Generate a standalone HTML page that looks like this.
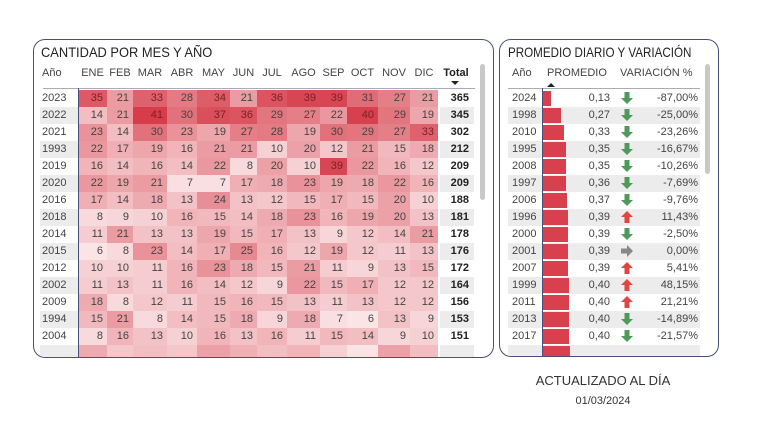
<!DOCTYPE html>
<html><head><meta charset="utf-8">
<style>
body{margin:0;width:768px;height:432px;background:#fff;font-family:"Liberation Sans",sans-serif;color:#333;position:relative;overflow:hidden}
.panel{position:absolute;border:1.5px solid #4a4f7a;border-radius:12px;background:#fff;overflow:hidden}
.title{position:absolute;font-size:14px;color:#222;white-space:nowrap;transform:scaleX(0.92);transform-origin:left top}
.t{position:absolute;font-size:11px;white-space:nowrap}
.c{position:absolute;height:17px}
.sb{position:absolute;width:5px;background:#c8c8c8;border-radius:3px}
</style></head><body>
<div class="panel" style="left:33px;top:39px;width:459px;height:317px" id="L">
<div class="title" style="left:7px;top:4px">CANTIDAD POR MES Y AÑO</div>
</div>
<div class="panel" style="left:499px;top:39px;width:218px;height:316px" id="R">
<div class="title" style="left:8px;top:4px;transform:scaleX(0.83)">PROMEDIO DIARIO Y VARIACIÓN</div>
</div>
<div class="t" style="left:0;width:1206px;text-align:center;top:373px;font-size:13px;color:#333">ACTUALIZADO AL DÍA</div>
<div class="t" style="left:0;width:1206px;text-align:center;top:395px;font-size:11px;color:#333">01/03/2024</div>
<script>
const L=document.getElementById('L'),R=document.getElementById('R');
function add(p,html){p.insertAdjacentHTML('beforeend',html);}
const ox=34,oy=40;
const hdr=["ENE","FEB","MAR","ABR","MAY","JUN","JUL","AGO","SEP","OCT","NOV","DIC"];
const b=[78,107,133,167,197,230,257,287,320,347,378,410,438];
const data=[
[2023,35,21,33,28,34,21,36,39,39,31,27,21,365],
[2022,14,21,41,30,37,36,29,27,22,40,29,19,345],
[2021,23,14,30,23,19,27,28,19,30,29,27,33,302],
[1993,22,17,19,16,21,21,10,20,12,21,15,18,212],
[2019,16,14,16,14,22,8,20,10,39,22,16,12,209],
[2020,22,19,21,7,7,17,18,23,19,18,22,16,209],
[2016,17,14,18,13,24,13,12,15,17,15,20,10,188],
[2018,8,9,10,16,15,14,18,23,16,19,20,13,181],
[2014,11,21,13,13,19,15,17,13,9,12,14,21,178],
[2015,6,8,23,14,17,25,16,12,19,12,11,13,176],
[2012,10,10,11,16,23,18,15,21,11,9,13,15,172],
[2002,11,13,11,16,14,12,9,22,15,17,12,12,164],
[2009,18,8,12,11,15,16,15,13,11,13,12,12,156],
[1994,15,21,8,14,15,18,9,18,7,6,13,9,153],
[2004,8,16,13,10,16,13,16,11,15,14,9,10,151],
[0,18,12,14,12,20,17,14,16,10,6,20,14,0]];
function col(v){const t=Math.max(0,Math.min(1,(v-6)/35));const a=[250,228,230],z=[214,60,74];return `rgb(${a.map((x,i)=>Math.round(x+(z[i]-x)*t)).join(',')})`;}
add(L,`<div class="t" style="left:${42-ox}px;top:${67-oy}px;color:#444">Año</div>`);
hdr.forEach((h,i)=>{const cx=(b[i]+b[i+1])/2;add(L,`<div class="t" style="left:${cx-20-ox}px;width:40px;text-align:center;top:${67-oy}px;color:#444">${h}</div>`)});
add(L,`<div class="t" style="left:${441-ox}px;width:30px;text-align:center;top:${67-oy}px;font-weight:bold;color:#222">Total</div>`);
add(L,`<div style="position:absolute;left:${451-ox}px;top:${81-oy}px;width:0;height:0;border-left:4px solid transparent;border-right:4px solid transparent;border-top:4px solid #222"></div>`);
add(L,`<div style="position:absolute;left:${43-ox}px;top:${88-oy}px;width:${432}px;height:1px;background:#aab"></div>`);
data.forEach((r,j)=>{const y=90+j*17-oy;
 if(j%2==1){add(L,`<div class="c" style="left:${40-ox}px;top:${y}px;width:38px;background:#ececec"></div><div class="c" style="left:${440-ox}px;top:${y}px;width:34px;background:#ececec"></div>`);}
 if(r[0])add(L,`<div class="t" style="left:${42-ox}px;top:${y+2}px;color:#444">${r[0]}</div>`);
 for(let i=0;i<12;i++){const v=r[i+1];add(L,`<div class="c" style="left:${b[i]-ox}px;top:${y}px;width:${b[i+1]-b[i]}px;background:${col(v)}"></div>`);
  if(r[0])add(L,`<div class="t" style="left:${b[i]-ox}px;width:${b[i+1]-b[i]-4}px;text-align:right;top:${y+2}px;color:${v>=33?'#7a1f28':'#444'}">${v}</div>`);}
 if(r[0])add(L,`<div class="t" style="left:${440-ox}px;width:29px;text-align:right;top:${y+2}px;font-weight:bold;color:#222">${r[13]}</div>`);
});
add(L,`<div style="position:absolute;left:${78-ox}px;top:${88-oy}px;width:1px;height:280px;background:#4a4f7a"></div>`);
add(L,`<div class="sb" style="left:${480-ox}px;top:${64-oy}px;height:136px"></div>`);
const rx=500;
const rd=[[2024,.13,'d','-87,00%'],[1998,.27,'d','-25,00%'],[2010,.33,'d','-23,26%'],[1995,.35,'d','-16,67%'],[2008,.35,'d','-10,26%'],[1997,.36,'d','-7,69%'],[2006,.37,'d','-9,76%'],[1996,.39,'u','11,43%'],[2000,.39,'d','-2,50%'],[2001,.39,'r','0,00%'],[2007,.39,'u','5,41%'],[1999,.40,'u','48,15%'],[2011,.40,'u','21,21%'],[2013,.40,'d','-14,89%'],[2017,.40,'d','-21,57%'],[2019,.41,'d','']];
add(R,`<div class="t" style="left:${512-rx}px;top:${67-oy}px;color:#444">Año</div><div class="t" style="left:${547-rx}px;top:${67-oy}px;color:#444">PROMEDIO</div><div class="t" style="left:${620-rx}px;top:${67-oy}px;color:#444">VARIACIÓN %</div>`);
add(R,`<div style="position:absolute;left:${547-rx}px;top:${83-oy}px;width:0;height:0;border-left:4px solid transparent;border-right:4px solid transparent;border-bottom:4px solid #222"></div>`);
add(R,`<div style="position:absolute;left:${508-rx}px;top:${88-oy}px;width:192px;height:1px;background:#aab"></div>`);
const up='<svg width="14" height="14" viewBox="0 0 14 14"><path d="M7 1 L13 7 L9.5 7 L9.5 13 L4.5 13 L4.5 7 L1 7Z" fill="#e0453f"/></svg>';
const dn='<svg width="14" height="14" viewBox="0 0 14 14"><path d="M7 13 L13 7 L9.5 7 L9.5 1 L4.5 1 L4.5 7 L1 7Z" fill="#4e9a5a"/></svg>';
const rt='<svg width="14" height="14" viewBox="0 0 14 14"><path d="M13 7 L7 1 L7 4.5 L1 4.5 L1 9.5 L7 9.5 L7 13Z" fill="#888"/></svg>';
rd.forEach((r,j)=>{const y=90+j*17-oy;
 if(j%2==1)add(R,`<div class="c" style="left:${508-rx}px;top:${y}px;width:192px;background:#ececec"></div>`);
 add(R,`<div class="c" style="left:${543-rx}px;top:${y+1}px;height:15px;width:${Math.round(r[1]*65)}px;background:#d9404d"></div>`);
 if(r[3]){
 add(R,`<div class="t" style="left:${512-rx}px;top:${y+2}px;color:#444">${r[0]}</div>`);
 add(R,`<div class="t" style="left:${570-rx}px;width:40px;text-align:right;top:${y+2}px;color:#444">${r[1].toFixed(2).replace('.',',')}</div>`);
 add(R,`<div style="position:absolute;left:${620-rx}px;top:${y+1}px">${r[2]=='u'?up:r[2]=='d'?dn:rt}</div>`);
 add(R,`<div class="t" style="left:${640-rx}px;width:58px;text-align:right;top:${y+2}px;color:#444">${r[3]}</div>`);}
});
add(R,`<div style="position:absolute;left:${542-rx}px;top:${88-oy}px;width:1px;height:280px;background:#4a4f7a"></div>`);
add(R,`<div class="sb" style="left:${705-rx}px;top:${64-oy}px;height:110px"></div>`);
</script>
</body></html>
